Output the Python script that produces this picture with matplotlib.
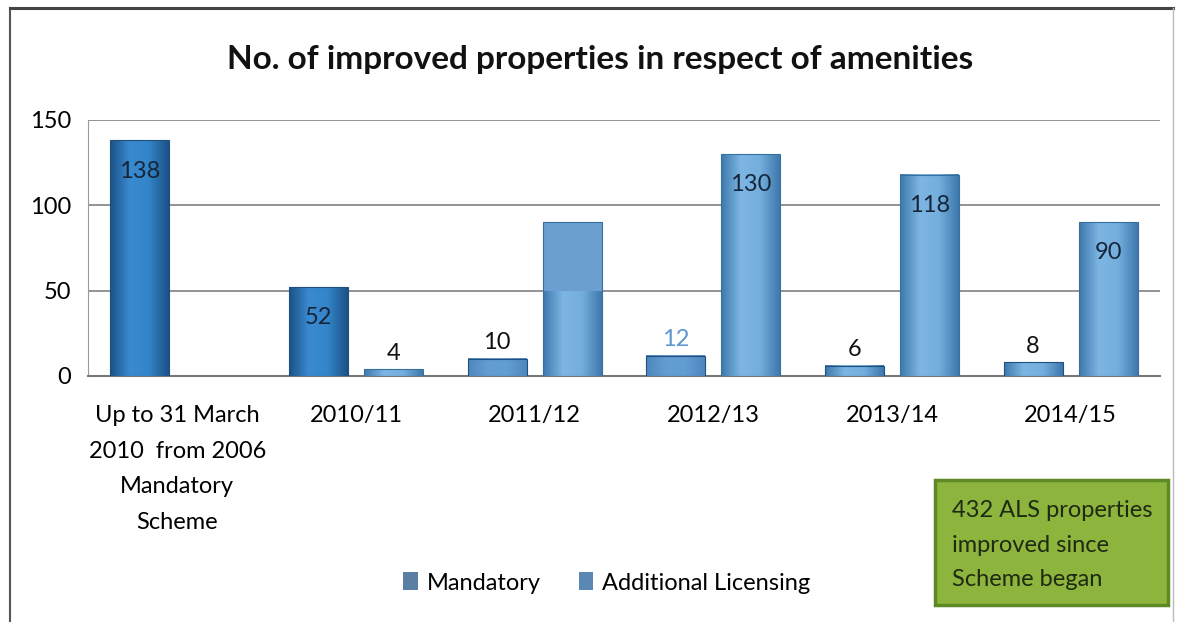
import matplotlib
matplotlib.use('Agg')
import matplotlib.pyplot as plt
import numpy as np
from matplotlib.patches import Rectangle, Patch
from matplotlib.lines import Line2D
from matplotlib.colors import LinearSegmentedColormap

plt.rcParams['font.family'] = ['Lato', 'DejaVu Sans']

# data
categories = ['Up to 31 March\n2010  from 2006\nMandatory\nScheme',
              '2010/11', '2011/12', '2012/13', '2013/14', '2014/15']
mandatory = [138, 52, 10, 12, 6, 8]
additional = [0, 4, 90, 130, 118, 90]
# labels as they appear (the 2011/12 ALS label is not legible in the source)
mand_labels = ['138', '52', '10', '12', '6', '8']
add_labels = ['', '4', '', '130', '118', '90']
box_text = '432 ALS properties\nimproved since\nScheme began'

fig = plt.figure(figsize=(11.81, 6.22), dpi=100)
fig.patch.set_facecolor('white')

# outer frame of the pasted chart
fig.add_artist(Line2D([10 / 1181, 10 / 1181], [0, 1 - 8 / 622], color='#555555', lw=1.5))
fig.add_artist(Line2D([10 / 1181, 1173 / 1181], [1 - 8 / 622, 1 - 8 / 622], color='#444444', lw=2.2))
fig.add_artist(Line2D([1173 / 1181, 1173 / 1181], [0, 1 - 8 / 622], color='#bbbbbb', lw=1.0))

ax = fig.add_axes([88 / 1181, 1 - 376 / 622, (1160 - 88) / 1181, (376 - 120) / 622])

x = np.arange(len(categories))
w = 0.33
off = 0.21

cm_dark = LinearSegmentedColormap.from_list('d', ['#1B5287', '#3A8AD0', '#3384C8', '#1B5287'])
cm_light = LinearSegmentedColormap.from_list('l', ['#3F79AD', '#7DB6E3', '#74AEDD', '#3F79AD'])
cm_flat = LinearSegmentedColormap.from_list('f', ['#4E87BE', '#629DD2', '#629DD2', '#4E87BE'])
grad = np.linspace(0, 1, 64).reshape(1, -1)

m_maps = [cm_dark, cm_dark, cm_flat, cm_flat, cm_light, cm_light]
m_bars = ax.bar(x - off, mandatory, w, color='none', edgecolor='#1E4F7E', linewidth=0.8, zorder=4)
a_bars = ax.bar(x + off, additional, w, color='none', edgecolor='#36709F', linewidth=0.8, zorder=4)
a_bars[0].set_visible(False)

for i, b in enumerate(m_bars):
    ax.imshow(grad, extent=[b.get_x(), b.get_x() + b.get_width(), 0, b.get_height()],
              aspect='auto', cmap=m_maps[i], zorder=3, interpolation='bicubic')
for i, b in enumerate(a_bars):
    if additional[i] == 0:
        continue
    ax.imshow(grad, extent=[b.get_x(), b.get_x() + b.get_width(), 0, b.get_height()],
              aspect='auto', cmap=cm_light, zorder=3, interpolation='bicubic')
# the 2011/12 ALS bar has a flat top part in the source
b = a_bars[2]
ax.add_patch(Rectangle((b.get_x(), 50), b.get_width(), additional[2] - 50, facecolor='#6A9FD0',
                       edgecolor='none', zorder=3.5))


def put_label(b, v, txt, color='#111111'):
    if txt == '':
        return
    if v > 30:
        ax.annotate(txt, (b.get_x() + b.get_width() / 2, v), xytext=(0, -22),
                    textcoords='offset points', ha='center', va='center', fontsize=17,
                    color='#15263a', zorder=5)
    else:
        ax.annotate(txt, (b.get_x() + b.get_width() / 2, v), xytext=(0, 4),
                    textcoords='offset points', ha='center', va='bottom', fontsize=17,
                    color=color, zorder=5)


for i, b in enumerate(m_bars):
    put_label(b, mandatory[i], mand_labels[i], '#5E98CE' if i == 3 else '#111111')
for i, b in enumerate(a_bars):
    put_label(b, additional[i], add_labels[i])

ax.set_xlim(-0.5, 5.5)
ax.set_ylim(0, 150)
ax.set_yticks([0, 50, 100, 150])
ax.set_xticks(x)
ax.set_xticklabels(categories, fontsize=17, linespacing=1.85, va='top')
ax.tick_params(axis='y', labelsize=17, length=0, pad=12)
ax.tick_params(axis='x', length=0, pad=21)
ax.grid(axis='y', color='#8a8a8a', linewidth=1.3, zorder=0)
ax.set_axisbelow(True)
for s in ['top', 'right']:
    ax.spines[s].set_visible(False)
ax.spines['left'].set_color('#9a9a9a')
ax.spines['bottom'].set_color('#777777')
ax.spines['bottom'].set_linewidth(1.5)

fig.text(600 / 1181, 1 - 60 / 622, 'No. of improved properties in respect of amenities',
         ha='center', va='center', fontsize=24, fontweight='bold', color='#111111')

handles = [Patch(facecolor='#5A7FA2', edgecolor='none', label='Mandatory'),
           Patch(facecolor='#5B87B3', edgecolor='none', label='Additional Licensing')]
fig.legend(handles=handles, loc='center', bbox_to_anchor=(607 / 1181, 1 - 583 / 622), ncol=2,
           frameon=False, fontsize=17, handlelength=0.6, handleheight=0.8, handletextpad=0.4,
           columnspacing=1.6)

# green call-out box
fig.add_artist(Rectangle((935 / 1181, 1 - 605 / 622), (1168 - 935) / 1181, (605 - 480) / 622,
                         transform=fig.transFigure, facecolor='#8DB43C', edgecolor='#5E8A25',
                         linewidth=2.5))
fig.text(952 / 1181, 1 - 545 / 622, box_text, ha='left', va='center', fontsize=17,
         color='#1e2a12', linespacing=1.8)

fig.savefig('out.png', dpi=100)
